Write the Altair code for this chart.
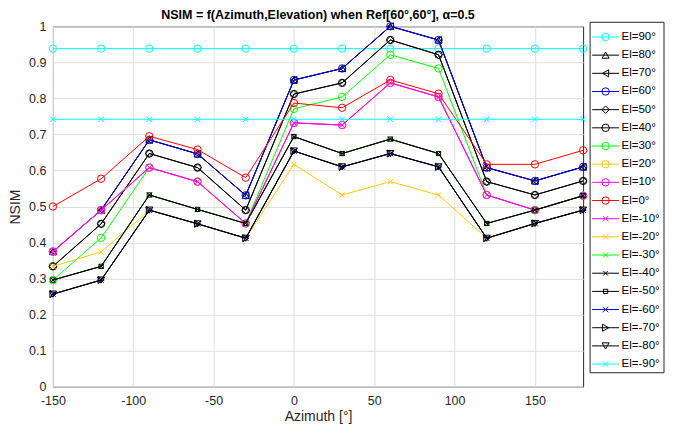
import altair as alt
import pandas as pd

AZIMUTH = [-150, -120, -90, -60, -30, 0, 30, 60, 90, 120, 150, 180]

EL_LABELS = ["El=90°", "El=80°", "El=70°", "El=60°", "El=50°", "El=40°", "El=30°",
             "El=20°", "El=10°", "El=0°", "El=-10°", "El=-20°", "El=-30°", "El=-40°",
             "El=-50°", "El=-60°", "El=-70°", "El=-80°", "El=-90°"]

nsim_el90 = [0.938, 0.938, 0.938, 0.938, 0.938, 0.938, 0.938, 0.938, 0.938, 0.938, 0.938, 0.938]
nsim_el80 = [0.375, 0.490, 0.685, 0.646, 0.531, 0.851, 0.883, 1.000, 0.962, 0.608, 0.571, 0.610]
nsim_el70 = [0.375, 0.490, 0.685, 0.646, 0.531, 0.851, 0.883, 1.000, 0.962, 0.608, 0.571, 0.610]
nsim_el60 = [0.375, 0.490, 0.685, 0.646, 0.531, 0.851, 0.883, 1.000, 0.962, 0.608, 0.571, 0.610]
nsim_el50 = [0.334, 0.452, 0.647, 0.608, 0.490, 0.812, 0.843, 0.962, 0.921, 0.569, 0.532, 0.571]
nsim_el40 = [0.334, 0.452, 0.647, 0.608, 0.490, 0.812, 0.843, 0.962, 0.921, 0.569, 0.532, 0.571]
nsim_el30 = [0.296, 0.413, 0.608, 0.569, 0.453, 0.771, 0.804, 0.921, 0.883, 0.532, 0.490, 0.530]
nsim_el20 = [0.375, 0.490, 0.608, 0.569, 0.453, 0.732, 0.726, 0.843, 0.804, 0.532, 0.490, 0.530]
nsim_el10 = [0.375, 0.490, 0.608, 0.569, 0.453, 0.732, 0.726, 0.843, 0.804, 0.532, 0.490, 0.530]
nsim_el0 = [0.500, 0.577, 0.695, 0.658, 0.580, 0.787, 0.774, 0.851, 0.813, 0.617, 0.617, 0.656]
nsim_elm10 = [0.375, 0.490, 0.608, 0.569, 0.453, 0.732, 0.726, 0.843, 0.804, 0.532, 0.490, 0.530]
nsim_elm20 = [0.334, 0.374, 0.490, 0.452, 0.412, 0.617, 0.532, 0.569, 0.532, 0.412, 0.453, 0.490]
nsim_elm30 = [0.296, 0.334, 0.532, 0.492, 0.453, 0.694, 0.647, 0.687, 0.647, 0.453, 0.490, 0.530]
nsim_elm40 = [0.296, 0.334, 0.532, 0.492, 0.453, 0.694, 0.647, 0.687, 0.647, 0.453, 0.490, 0.530]
nsim_elm50 = [0.296, 0.334, 0.532, 0.492, 0.453, 0.694, 0.647, 0.687, 0.647, 0.453, 0.490, 0.530]
nsim_elm60 = [0.257, 0.296, 0.490, 0.452, 0.412, 0.654, 0.610, 0.647, 0.610, 0.412, 0.453, 0.490]
nsim_elm70 = [0.257, 0.296, 0.490, 0.452, 0.412, 0.654, 0.610, 0.647, 0.610, 0.412, 0.453, 0.490]
nsim_elm80 = [0.257, 0.296, 0.490, 0.452, 0.412, 0.654, 0.610, 0.647, 0.610, 0.412, 0.453, 0.490]
nsim_elm90 = [0.742, 0.742, 0.742, 0.742, 0.742, 0.742, 0.742, 0.742, 0.742, 0.742, 0.742, 0.742]

SERIES = [nsim_el90, nsim_el80, nsim_el70, nsim_el60, nsim_el50, nsim_el40, nsim_el30,
          nsim_el20, nsim_el10, nsim_el0, nsim_elm10, nsim_elm20, nsim_elm30, nsim_elm40,
          nsim_elm50, nsim_elm60, nsim_elm70, nsim_elm80, nsim_elm90]

X_TICKS = [-150, -100, -50, 0, 50, 100, 150]
Y_TICKS = [0, 0.1, 0.2, 0.3, 0.4, 0.5, 0.6, 0.7, 0.8, 0.9, 1.0]

# styles
CYAN, BLACK, BLUE, GREEN, YELLOW, MAGENTA, RED = "#00FFFF", "#000000", "#0000FF", "#00FF00", "#FFC800", "#FF00FF", "#FF0000"
XMARK = "M-1,-1L1,1M-1,1L1,-1"
COLORS = [CYAN, BLACK, BLACK, BLUE, BLACK, BLACK, GREEN, YELLOW, MAGENTA, RED,
          MAGENTA, YELLOW, GREEN, BLACK, BLACK, BLUE, BLACK, BLACK, CYAN]
SHAPES = ["circle", "triangle-up", "triangle-left", "circle", "diamond", "circle", "circle",
          "circle", "circle", "circle", XMARK, XMARK, XMARK, XMARK, "square", XMARK,
          "triangle-right", "triangle-down", XMARK]
SIZES = [55, 50, 50, 55, 55, 55, 55, 55, 55, 55, 30, 30, 30, 22, 18, 30, 50, 50, 30]

FONT = "Liberation Sans"
TXT = "#262626"

x_scale = alt.Scale(domain=[-150, 180], nice=False, zero=False)
y_scale = alt.Scale(domain=[0, 1], nice=False)
x_axis = alt.Axis(values=X_TICKS, title="Azimuth [°]", labelExpr="datum.value + ''",
                  grid=True, tickSize=0, labelPadding=8, titlePadding=2, labelFlush=False)
y_axis = alt.Axis(values=Y_TICKS, title="NSIM", format="~g", grid=True, tickSize=0,
                  labelPadding=7, titlePadding=6, labelFlush=False)

main_layers = []
for i, vals in enumerate(SERIES):
    df = pd.DataFrame({"az": AZIMUTH, "nsim": vals})
    enc = dict(x=alt.X("az:Q", scale=x_scale, axis=x_axis),
               y=alt.Y("nsim:Q", scale=y_scale, axis=y_axis))
    base = alt.Chart(df)
    main_layers.append(base.mark_line(color=COLORS[i], strokeWidth=1).encode(**enc))
    main_layers.append(base.mark_point(color=COLORS[i], shape=SHAPES[i], size=SIZES[i],
                                       filled=False, strokeWidth=1, opacity=1).encode(**enc))
main = alt.layer(*main_layers)

# legend (drawn with its own scales, to the right of the plot area)
leg_df = pd.DataFrame({"idx": list(range(len(EL_LABELS))), "label": EL_LABELS,
                       "color": COLORS, "shape": SHAPES, "size": SIZES})
LEG_W = 74
lx = alt.Scale(domain=[0, LEG_W], range=[538, 538 + LEG_W])
ly = alt.Scale(domain=[-0.808, 18.478], range=[-4, 347])
leg_y = alt.Y("idx:Q", scale=ly, axis=None)
box = alt.Chart(pd.DataFrame({"a": [0]})).mark_rect(fill="white", stroke=TXT, strokeWidth=1).encode(
    x=alt.datum(0, scale=lx, axis=None), x2=alt.datum(LEG_W),
    y=alt.datum(-0.808, scale=ly, axis=None), y2=alt.datum(18.478))
leg_lines = alt.Chart(leg_df).mark_rule(strokeWidth=1).encode(
    x=alt.datum(2, scale=lx, axis=None), x2=alt.datum(29), y=leg_y,
    color=alt.Color("color:N", scale=None))
leg_pts = alt.Chart(leg_df).mark_point(filled=False, strokeWidth=1, opacity=1).encode(
    x=alt.datum(15.5, scale=lx, axis=None), y=leg_y,
    color=alt.Color("color:N", scale=None),
    shape=alt.Shape("shape:N", scale=None),
    size=alt.Size("size:Q", scale=None))
leg_text = alt.Chart(leg_df).mark_text(align="left", baseline="middle", fontSize=11.5,
                                        font=FONT, color="black").encode(
    x=alt.datum(31.5, scale=lx, axis=None), y=leg_y, text="label:N")
legend = alt.layer(box, leg_lines, leg_pts, leg_text)

chart = alt.layer(main, legend).resolve_scale(x="independent", y="independent").properties(
    width=531, height=361, padding=0,
    title=alt.TitleParams("NSIM = f(Azimuth,Elevation) when Ref[60°,60°], α=0.5",
                          fontSize=12.5, fontWeight="bold", font=FONT, color="black",
                          anchor="middle", frame="group", offset=-1),
).configure_view(stroke=TXT, strokeWidth=1).configure_axis(
    gridColor="#DFDFDF", gridWidth=1, domain=False,
    labelFont=FONT, labelFontSize=12.5, labelColor=TXT,
    titleFont=FONT, titleFontSize=14, titleFontWeight="normal", titleColor=TXT,
)

chart.save("out.html", embed_options={"renderer": "svg", "actions": False})
